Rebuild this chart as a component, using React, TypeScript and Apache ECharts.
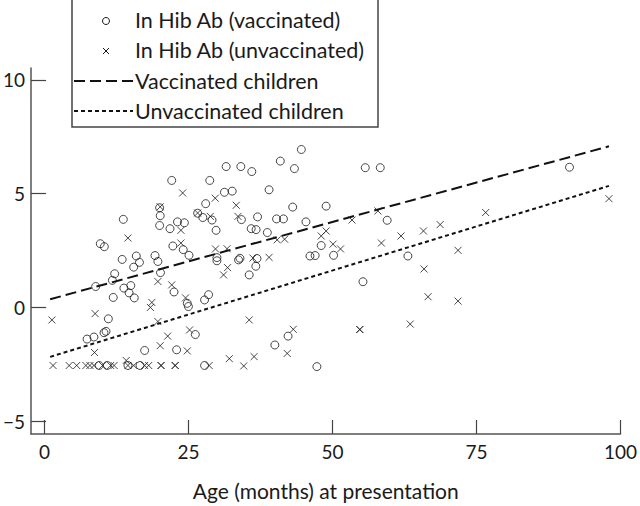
import React, { useEffect, useRef } from "react";
import * as echarts from "echarts";

const xTicks = [0, 25, 50, 75, 100];
const yTicks = [-5, 0, 5, 10];
const xAxisName = "Age (months) at presentation";
const legendLabels = [
  "In Hib Ab (vaccinated)",
  "In Hib Ab (unvaccinated)",
  "Vaccinated children",
  "Unvaccinated children",
];

const vaccinatedPoints = [
  [9.7, 2.8], [10.4, 2.67], [8.9, 0.92], [7.4, -1.39], [8.6, -1.3], [10.35, -1.11], [10.7, -1.05],
  [11.1, -0.5], [11.95, 0.44], [13.7, 3.87], [13.5, 2.11], [12.2, 1.48], [11.8, 1.19], [13.8, 0.85],
  [15.0, 0.96], [14.7, 0.64], [15.6, 0.42], [15.95, 2.26], [16.5, 1.98], [15.5, 1.77], [17.4, -1.89],
  [22.1, 5.58], [20.0, 4.38], [20.1, 4.03], [20.0, 3.6], [21.8, 3.46], [23.1, 3.76], [24.3, 3.72],
  [26.6, 4.14], [22.3, 2.7], [24.1, 2.54], [25.1, 2.29], [19.2, 2.28], [19.7, 2.02], [20.15, 1.53],
  [22.5, 0.68], [24.8, 0.18], [25.0, 0.04], [26.2, -1.19], [22.95, -1.86], [27.8, -2.55], [14.5, -2.55],
  [9.5, -2.55], [10.9, -2.55], [16.6, -2.55],
  [44.6, 6.94], [31.55, 6.19], [34.1, 6.19], [36.0, 5.97], [40.95, 6.43], [43.4, 6.1], [55.7, 6.14],
  [58.3, 6.14], [28.7, 5.58], [31.25, 5.06], [32.6, 5.11], [39.0, 5.17], [28.0, 4.56], [43.1, 4.41],
  [48.9, 4.45], [27.5, 3.95], [29.1, 3.84], [34.2, 3.86], [37.0, 3.98], [40.3, 3.89], [41.5, 3.89],
  [29.8, 3.39], [35.9, 3.46], [36.75, 3.42], [38.7, 3.29], [45.4, 3.76], [48.05, 2.72], [50.2, 2.29],
  [46.1, 2.26], [47.0, 2.28], [29.95, 2.19], [29.95, 2.05], [33.7, 2.09], [33.95, 2.16], [36.9, 2.15],
  [36.7, 1.81], [35.55, 1.43], [55.3, 1.13], [28.5, 0.56], [27.8, 0.33], [40.0, -1.65], [42.3, -1.26],
  [47.3, -2.6], [59.5, 3.83], [91.15, 6.16], [63.1, 2.26],
];

const unvaccinatedPoints = [
  [24.0, 5.03], [14.5, 3.05], [23.7, 3.39], [23.7, 2.83], [19.7, 1.14], [22.1, 0.99], [20.1, 4.42],
  [24.5, 0.42], [18.65, 0.22], [18.4, 0.0], [8.8, -0.27], [1.3, -0.55], [19.7, -0.62], [21.4, -1.26],
  [25.2, -0.99], [8.7, -1.98], [20.1, -1.68], [24.8, -1.91], [14.2, -2.33],
  [1.5, -2.55], [4.3, -2.55], [5.6, -2.55], [7.2, -2.55], [7.9, -2.55], [8.6, -2.55], [10.1, -2.55],
  [11.5, -2.55], [12.1, -2.55], [14.5, -2.55], [15.5, -2.55], [17.4, -2.55], [18.1, -2.55],
  [20.25, -2.55], [20.25, -2.55], [22.7, -2.55], [22.7, -2.55], [28.6, -2.55],
  [29.65, 4.8], [33.3, 4.49], [28.8, 4.0], [33.6, 4.0], [26.6, 4.15], [40.4, 2.97], [41.7, 3.0],
  [48.05, 3.14], [48.9, 3.36], [53.4, 3.84], [50.1, 2.78], [51.4, 2.57], [29.7, 2.57], [31.7, 2.58],
  [36.2, 2.17], [39.0, 2.2], [31.8, 1.75], [31.1, 1.43], [35.55, -0.55], [32.1, -2.25], [34.6, -2.57],
  [36.4, -2.16], [42.15, -2.02], [43.2, -0.96], [54.75, -0.97], [54.75, -0.97], [63.5, -0.73],
  [57.9, 4.24], [58.5, 2.83], [61.9, 3.14], [65.8, 3.36], [68.7, 3.64], [76.6, 4.17], [98.0, 4.78],
  [71.8, 2.51], [65.9, 1.69], [66.6, 0.47], [71.8, 0.28],
];

const vaccinatedLine = [[1, 0.36], [98, 7.08]];
const unvaccinatedLine = [[1, -2.17], [98, 5.34]];

const FONT = "Lato";
const INK = "#1a1a1a";
const CROSS = "path://M0,0L10,10M0,10L10,0";

export default function App() {
  const ref = useRef<HTMLDivElement>(null);
  useEffect(() => {
    if (!ref.current) return;
    const chart = echarts.init(ref.current, undefined, { renderer: "svg" });
    const legendText = (i: number, y: number) => ({
      type: "text",
      x: 135,
      y,
      style: { text: legendLabels[i], font: `21.5px ${FONT}`, fill: INK, verticalAlign: "middle" },
    });
    chart.setOption({
      animation: false,
      backgroundColor: "#fff",
      grid: { left: 28, right: 17, top: 68, bottom: 59, containLabel: false },
      xAxis: {
        type: "value",
        min: -2.32,
        max: 100,
        name: xAxisName,
        nameLocation: "middle",
        nameGap: 46,
        nameTextStyle: { fontFamily: FONT, fontSize: 21, color: INK },
        axisLine: { show: true, onZero: false, lineStyle: { color: "#555", width: 1.5 } },
        axisTick: { show: true, inside: true, length: 14, customValues: xTicks, lineStyle: { color: "#444", width: 1.2 } },
        axisLabel: { customValues: xTicks, fontFamily: FONT, fontSize: 19, color: INK, margin: 8 },
        splitLine: { show: false },
      },
      yAxis: {
        type: "value",
        min: -5.56,
        max: 10.52,
        axisLine: { show: true, onZero: false, lineStyle: { color: "#555", width: 1.5 } },
        axisTick: { show: true, inside: true, length: 15, customValues: yTicks, lineStyle: { color: "#444", width: 1.2 } },
        axisLabel: {
          customValues: yTicks,
          fontFamily: FONT,
          fontSize: 19,
          color: INK,
          margin: 6,
          formatter: (v: number) => (v < 0 ? "\u2212" + Math.abs(v) : String(v)),
        },
        splitLine: { show: false },
      },
      series: [
        {
          type: "scatter",
          data: vaccinatedPoints,
          symbol: "circle",
          symbolSize: 8,
          itemStyle: { color: "rgba(0,0,0,0)", borderColor: INK, borderWidth: 1 },
          z: 3,
        },
        {
          type: "scatter",
          data: unvaccinatedPoints,
          symbol: CROSS,
          symbolSize: 7,
          itemStyle: { color: "rgba(0,0,0,0)", borderColor: INK, borderWidth: 1 },
          z: 3,
        },
        {
          type: "line",
          data: vaccinatedLine,
          showSymbol: false,
          lineStyle: { color: "#111", width: 2, type: [11, 5] },
          z: 2,
        },
        {
          type: "line",
          data: unvaccinatedLine,
          showSymbol: false,
          lineStyle: { color: "#111", width: 2, type: [4, 3] },
          z: 2,
        },
      ],
      graphic: [
        {
          type: "rect",
          shape: { x: 72, y: -3, width: 306, height: 130 },
          style: { fill: "#fff", stroke: "#444", lineWidth: 1.5 },
          z: 10,
        },
        { type: "circle", shape: { cx: 106, cy: 21, r: 3.5 }, style: { fill: "none", stroke: INK, lineWidth: 1 }, z: 11 },
        { type: "line", shape: { x1: 103, y1: 48, x2: 109, y2: 54 }, style: { stroke: INK, lineWidth: 1 }, z: 11 },
        { type: "line", shape: { x1: 103, y1: 54, x2: 109, y2: 48 }, style: { stroke: INK, lineWidth: 1 }, z: 11 },
        { type: "line", shape: { x1: 74, y1: 81, x2: 133, y2: 81 }, style: { stroke: "#111", lineWidth: 2, lineDash: [11, 5] }, z: 11 },
        { type: "line", shape: { x1: 74, y1: 111, x2: 133, y2: 111 }, style: { stroke: "#111", lineWidth: 2, lineDash: [4, 3] }, z: 11 },
        { ...legendText(0, 20), z: 11 },
        { ...legendText(1, 50), z: 11 },
        { ...legendText(2, 81), z: 11 },
        { ...legendText(3, 111), z: 11 },
      ],
    });
    return () => chart.dispose();
  }, []);
  return <div ref={ref} style={{ width: 640, height: 506, position: "absolute", left: 0, top: 0 }} />;
}
